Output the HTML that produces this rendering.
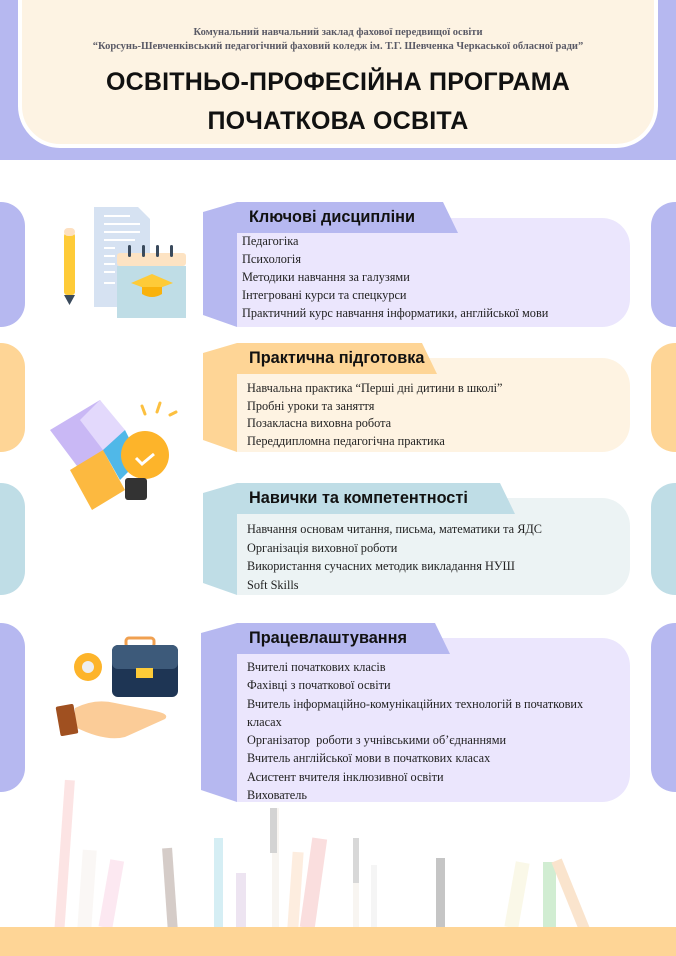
<!DOCTYPE html>
<html><head><meta charset="utf-8"><style>
*{margin:0;padding:0;box-sizing:border-box}
body{width:676px;height:956px;position:relative;background:#fff;overflow:hidden;font-family:"Liberation Serif",serif}
.abs{position:absolute}
.band{left:0;top:0;width:676px;height:160px;background:#b6b8f0}
.card{left:18px;top:-10px;width:640px;height:158px;background:#fdf3e3;border:4px solid #fff;border-radius:0 0 42px 42px}
.sm{width:676px;text-align:center;font-size:10.5px;font-weight:bold;color:#5a5a66}
.big{width:676px;text-align:center;font-family:"Liberation Sans",sans-serif;font-weight:bold;font-size:25px;color:#111;letter-spacing:0.2px}
.lt{left:0;width:25px;border-radius:0 24px 24px 0}
.rt{left:651px;width:25px;border-radius:24px 0 0 24px}
.box{left:237px;width:393px;border-radius:0 28px 28px 0}
.hd{left:237px;height:32px;font-family:"Liberation Sans",sans-serif;font-weight:bold;font-size:16.3px;color:#111;padding:6px 0 0 12px}
.it{font-size:12.3px;color:#222;white-space:nowrap}
</style></head><body>
<div class="abs band"></div>
<div class="abs card"></div>
<div class="abs sm" style="top:27px">Комунальний навчальний заклад фахової передвищої освіти</div>
<div class="abs sm" style="top:41px">“Корсунь-Шевченківський педагогічний фаховий коледж ім. Т.Г. Шевченка Черкаської обласної ради”</div>
<div class="abs big" style="top:68px">ОСВІТНЬО-ПРОФЕСІЙНА ПРОГРАМА</div>
<div class="abs big" style="top:107px">ПОЧАТКОВА ОСВІТА</div>

<div class="abs lt" style="top:202px;height:125px;background:#b6b8f0"></div>
<div class="abs lt" style="top:343px;height:109px;background:#fed596"></div>
<div class="abs lt" style="top:483px;height:112px;background:#bfdde6"></div>
<div class="abs lt" style="top:623px;height:169px;background:#b6b8f0"></div>
<div class="abs rt" style="top:202px;height:125px;background:#b6b8f0"></div>
<div class="abs rt" style="top:343px;height:109px;background:#fed596"></div>
<div class="abs rt" style="top:483px;height:112px;background:#bfdde6"></div>
<div class="abs rt" style="top:623px;height:169px;background:#b6b8f0"></div>

<svg class="abs" style="left:0;top:0" width="676" height="956">
<polygon points="203,212 237,202 237,327 203,315" fill="#b6b8f0"/>
<polygon points="203,353 237,343 237,452 203,440" fill="#fed596"/>
<polygon points="203,493 237,483 237,595 203,583" fill="#bfdde6"/>
<polygon points="201,633 237,623 237,802 201,790" fill="#b6b8f0"/>
<g opacity="0.28">
<rect x="60" y="780" width="10" height="148" fill="#f7a0a0" transform="rotate(4 65 850)"/>
<rect x="80" y="850" width="14" height="78" fill="#efe4dc" transform="rotate(4 87 890)"/>
<rect x="105" y="860" width="14" height="68" fill="#f5b0d0" transform="rotate(10 112 890)"/>
<rect x="165" y="848" width="10" height="80" fill="#6d4c3d" transform="rotate(-4 170 890)"/>
<rect x="214" y="838" width="9" height="90" fill="#6ac3d8"/>
<rect x="236" y="873" width="10" height="55" fill="#c0a0d0"/>
<rect x="272" y="808" width="7" height="120" fill="#e8ddd0"/>
<rect x="270" y="808" width="7" height="45" fill="#666"/>
<rect x="290" y="852" width="11" height="76" fill="#f8c090" transform="rotate(4 295 890)"/>
<rect x="305" y="838" width="15" height="90" fill="#f08a8a" transform="rotate(8 312 890)"/>
<rect x="353" y="838" width="6" height="90" fill="#e8ddd0"/>
<rect x="353" y="838" width="6" height="45" fill="#777"/>
<rect x="371" y="865" width="6" height="63" fill="#ddd"/>
<rect x="436" y="858" width="9" height="70" fill="#333"/>
<rect x="510" y="862" width="14" height="66" fill="#efe8b0" transform="rotate(10 517 895)"/>
<rect x="543" y="862" width="13" height="66" fill="#5cc060"/>
<rect x="565" y="858" width="11" height="74" fill="#f0a050" transform="rotate(-22 570 895)"/>
</g>
<path d="M94,207 h44 l12,12 v88 h-56z" fill="#d6e2f2"/>
<g stroke="#fff" stroke-width="2"><line x1="104" y1="216" x2="130" y2="216"/><line x1="104" y1="224" x2="140" y2="224"/><line x1="104" y1="232" x2="140" y2="232"/><line x1="104" y1="240" x2="135" y2="240"/><line x1="104" y1="248" x2="115" y2="248"/><line x1="104" y1="256" x2="115" y2="256"/><line x1="104" y1="264" x2="115" y2="264"/><line x1="104" y1="272" x2="115" y2="272"/><line x1="104" y1="283" x2="115" y2="283"/></g>
<rect x="64" y="233" width="11" height="62" rx="3" fill="#fecb38"/><rect x="64" y="228" width="11" height="8" rx="4" fill="#fde0c0"/><polygon points="64,295 75,295 69.5,305" fill="#3a4a5c"/>
<rect x="117" y="253" width="69" height="13" rx="3" fill="#fde3c3"/><rect x="117" y="266" width="69" height="52" fill="#bfdde6"/>
<g fill="#3a4a5c"><rect x="128" y="245" width="3" height="12" rx="1.5"/><rect x="142" y="245" width="3" height="12" rx="1.5"/><rect x="156" y="245" width="3" height="12" rx="1.5"/><rect x="170" y="245" width="3" height="12" rx="1.5"/></g>
<polygon points="152,274 173,283 152,291 131,283" fill="#fecb38"/><path d="M142,287 v7 q10,6 20,0 v-7z" fill="#f9b20c"/>
<polygon points="50,430 100,400 130,440 80,470" fill="#c9b8f5"/>
<polygon points="80,420 100,400 125,430 103,450" fill="#e3d9fc"/>
<polygon points="70,470 103,450 125,490 92,510" fill="#fcb940"/>
<polygon points="103,450 125,430 140,460 120,480" fill="#50b8e8"/>
<circle cx="145" cy="455" r="24" fill="#fdb42a"/><rect x="125" y="478" width="22" height="22" rx="3" fill="#333"/>
<path d="M136,458 l6,6 l12,-10" stroke="#fff" stroke-width="3" fill="none"/>
<g stroke="#fcc040" stroke-width="3" stroke-linecap="round"><line x1="142" y1="406" x2="145" y2="414"/><line x1="160" y1="403" x2="157" y2="412"/><line x1="170" y1="415" x2="176" y2="412"/></g>
<circle cx="88" cy="667" r="14" fill="#fdb42a"/><circle cx="88" cy="667" r="6" fill="#eee"/>
<rect x="126" y="638" width="28" height="9" rx="3" fill="none" stroke="#f0a050" stroke-width="3"/>
<rect x="112" y="645" width="66" height="52" rx="6" fill="#1e3554"/><rect x="112" y="645" width="66" height="24" rx="6" fill="#3d5a7a"/>
<rect x="136" y="668" width="17" height="10" fill="#fecb38"/>
<path d="M75,708 q20,-10 40,-5 l40,8 q15,3 10,8 l-40,18 q-20,5 -50,-10z" fill="#fbcc98"/>
<rect x="58" y="705" width="18" height="30" rx="2" fill="#a05020" transform="rotate(-10 67 720)"/>
</svg>

<div class="abs box" style="top:218px;height:109px;background:#ebe6fd"></div>
<svg class="abs" style="left:237px;top:202px" width="240" height="32"><polygon points="0,0 206,0 221,31 0,31" fill="#b6b8f0"/></svg>
<div class="abs hd" style="top:202px">Ключові дисципліни</div>
<div class="abs it" style="left:242px;top:232px;line-height:18px">Педагогіка<br>Психологія<br>Методики навчання за галузями<br>Інтегровані курси та спецкурси<br>Практичний курс навчання інформатики, англійської мови</div>

<div class="abs box" style="top:358px;height:94px;background:#fef3e2"></div>
<svg class="abs" style="left:237px;top:343px" width="240" height="32"><polygon points="0,0 185,0 200,31 0,31" fill="#fed596"/></svg>
<div class="abs hd" style="top:343px">Практична підготовка</div>
<div class="abs it" style="left:247px;top:380px;line-height:17.5px">Навчальна практика “Перші дні дитини в школі”<br>Пробні уроки та заняття<br>Позакласна виховна робота<br>Переддипломна педагогічна практика</div>

<div class="abs box" style="top:498px;height:97px;background:#ecf3f4"></div>
<svg class="abs" style="left:237px;top:483px" width="300" height="32"><polygon points="0,0 263,0 278,31 0,31" fill="#bfdde6"/></svg>
<div class="abs hd" style="top:483px">Навички та компетентності</div>
<div class="abs it" style="left:247px;top:520px;line-height:18.5px">Навчання основам читання, письма, математики та ЯДС<br>Організація виховної роботи<br>Використання сучасних методик викладання НУШ<br>Soft Skills</div>

<div class="abs box" style="top:638px;height:164px;background:#ebe6fd"></div>
<svg class="abs" style="left:237px;top:623px" width="240" height="32"><polygon points="0,0 198,0 213,31 0,31" fill="#b6b8f0"/></svg>
<div class="abs hd" style="top:623px">Працевлаштування</div>
<div class="abs it" style="left:247px;top:658px;line-height:18.3px">Вчителі початкових класів<br>Фахівці з початкової освіти<br>Вчитель інформаційно-комунікаційних технологій в початкових<br>класах<br>Організатор&nbsp; роботи з учнівськими об’єднаннями<br>Вчитель англійської мови в початкових класах<br>Асистент вчителя інклюзивної освіти<br>Вихователь</div>

<div class="abs" style="left:0;top:927px;width:676px;height:29px;background:#fed596"></div>
</body></html>
